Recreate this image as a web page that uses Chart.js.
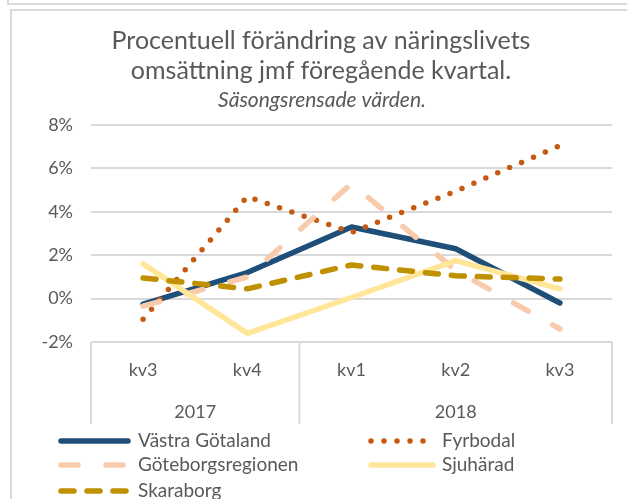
<!DOCTYPE html>
<html>
<head>
<meta charset="utf-8">
<script src="https://cdn.jsdelivr.net/npm/chart.js@4/dist/chart.umd.min.js"></script>
<style>
html,body{margin:0;padding:0;background:#fff;}
#wrap{width:627px;height:499px;position:relative;}
</style>
</head>
<body>
<div id="wrap"><canvas id="c" width="627" height="499"></canvas></div>
<script>
const categories = ['kv3', 'kv4', 'kv1', 'kv2', 'kv3'];
const years = ['2017', '2018'];
const yearSpans = [2, 3];
const yTicks = [-2, 0, 2, 4, 6, 8];
const titleLines = ['Procentuell förändring av näringslivets', 'omsättning jmf föregående kvartal.'];
const subtitleText = 'Säsongsrensade värden.';

const vastraGotaland = [-0.25, 1.2, 3.3, 2.3, -0.2];
const fyrbodal = [-0.95, 4.7, 3.05, 4.95, 7.05];
const goteborgsregionen = [-0.35, 1.0, 5.3, 1.3, -1.4];
const sjuharad = [1.6, -1.6, 0.05, 1.75, 0.45];
const skaraborg = [0.95, 0.45, 1.55, 1.05, 0.9];

const TEXT = '#595959';
const GRID = '#d9d9d9';
const FONT = 'Lato';

const datasets = [
  {label: 'Västra Götaland', data: vastraGotaland, borderColor: '#1F4E79', borderDash: [], order: 5},
  {label: 'Fyrbodal', data: fyrbodal, borderColor: '#C55A11', borderDash: [0, 13], order: 4},
  {label: 'Göteborgsregionen', data: goteborgsregionen, borderColor: '#F8CBAD', borderDash: [17, 28], order: 3},
  {label: 'Sjuhärad', data: sjuharad, borderColor: '#FFE699', borderDash: [], order: 2},
  {label: 'Skaraborg', data: skaraborg, borderColor: '#BF9000', borderDash: [13, 13], order: 1}
].map(d => Object.assign({
  borderWidth: 5.5, pointRadius: 0, pointHoverRadius: 0, tension: 0, fill: false,
  borderCapStyle: 'round', borderJoinStyle: 'round', backgroundColor: d.borderColor
}, d));

const decor = {
  id: 'decor',
  beforeDraw(chart) {
    const ctx = chart.ctx;
    ctx.save();
    ctx.fillStyle = '#fff';
    ctx.fillRect(0, 0, chart.width, chart.height);
    ctx.strokeStyle = '#dadada';
    ctx.lineWidth = 2;
    ctx.beginPath();
    ctx.moveTo(8, 0); ctx.lineTo(8, 4); ctx.lineTo(627, 4);
    ctx.stroke();
    ctx.beginPath();
    ctx.moveTo(11, 499); ctx.lineTo(11, 10); ctx.lineTo(627, 10);
    ctx.stroke();
    // title
    ctx.fillStyle = TEXT;
    ctx.textAlign = 'center';
    ctx.textBaseline = 'middle';
    ctx.font = '25px ' + FONT;
    ctx.fillText(titleLines[0], 321, 41);
    ctx.fillText(titleLines[1], 321, 71);
    ctx.font = 'italic 21px ' + FONT;
    ctx.fillText(subtitleText, 322, 100);
    ctx.restore();
  },
  afterDraw(chart) {
    const ctx = chart.ctx;
    const xs = chart.scales.x;
    const area = chart.chartArea;
    const step = xs.getPixelForValue(1) - xs.getPixelForValue(0);
    ctx.save();
    ctx.strokeStyle = GRID;
    ctx.lineWidth = 2;
    // category dividers
    let idx = 0;
    const bounds = [xs.getPixelForValue(0) - step / 2];
    yearSpans.forEach(s => { idx += s; bounds.push(xs.getPixelForValue(idx - 1) + step / 2); });
    bounds.forEach(b => {
      ctx.beginPath(); ctx.moveTo(b, area.bottom); ctx.lineTo(b, 424); ctx.stroke();
    });
    ctx.fillStyle = TEXT;
    ctx.textAlign = 'center';
    ctx.textBaseline = 'middle';
    ctx.font = '18px ' + FONT;
    years.forEach((y, i) => ctx.fillText(y, (bounds[i] + bounds[i + 1]) / 2, 412));
    // legend
    ctx.font = '19px ' + FONT;
    const rows = [[0, 1], [2, 3], [4]];
    const lineX = [[61, 128], [371, 433]];
    const textX = [138, 442];
    const rowY = [441, 465, 491];
    rows.forEach((r, ri) => {
      r.forEach((di, ci) => {
        const d = chart.data.datasets[di];
        const y = rowY[ri];
        ctx.save();
        ctx.strokeStyle = d.borderColor;
        ctx.lineWidth = d.borderWidth;
        ctx.lineCap = 'round';
        ctx.setLineDash(d.borderDash);
        ctx.beginPath(); ctx.moveTo(lineX[ci][0], y); ctx.lineTo(lineX[ci][1], y); ctx.stroke();
        ctx.restore();
        ctx.fillStyle = TEXT;
        ctx.textAlign = 'left';
        ctx.fillText(d.label, textX[ci], y);
      });
    });
    ctx.restore();
  }
};

new Chart(document.getElementById('c'), {
  type: 'line',
  data: {labels: categories, datasets: datasets},
  options: {
    responsive: false,
    animation: false,
    events: [],
    layout: {padding: {left: 11, right: 15, top: 125, bottom: 117}},
    plugins: {legend: {display: false}, title: {display: false}, tooltip: {enabled: false}},
    scales: {
      x: {
        offset: true,
        grid: {display: false, drawTicks: false, offset: true},
        border: {display: false},
        ticks: {color: TEXT, font: {family: FONT, size: 18}, padding: 17, maxRotation: 0, autoSkip: false},
        afterFit(s) { s.height = 40; }
      },
      y: {
        min: -2, max: 8,
        afterBuildTicks(s) { s.ticks = yTicks.map(v => ({value: v})); },
        grid: {color: GRID, lineWidth: 2, drawTicks: false},
        border: {display: false},
        ticks: {color: TEXT, font: {family: FONT, size: 18}, padding: 18, callback: v => v + '%'},
        afterFit(s) { s.width = 80; }
      }
    }
  },
  plugins: [decor]
});
</script>
</body>
</html>
